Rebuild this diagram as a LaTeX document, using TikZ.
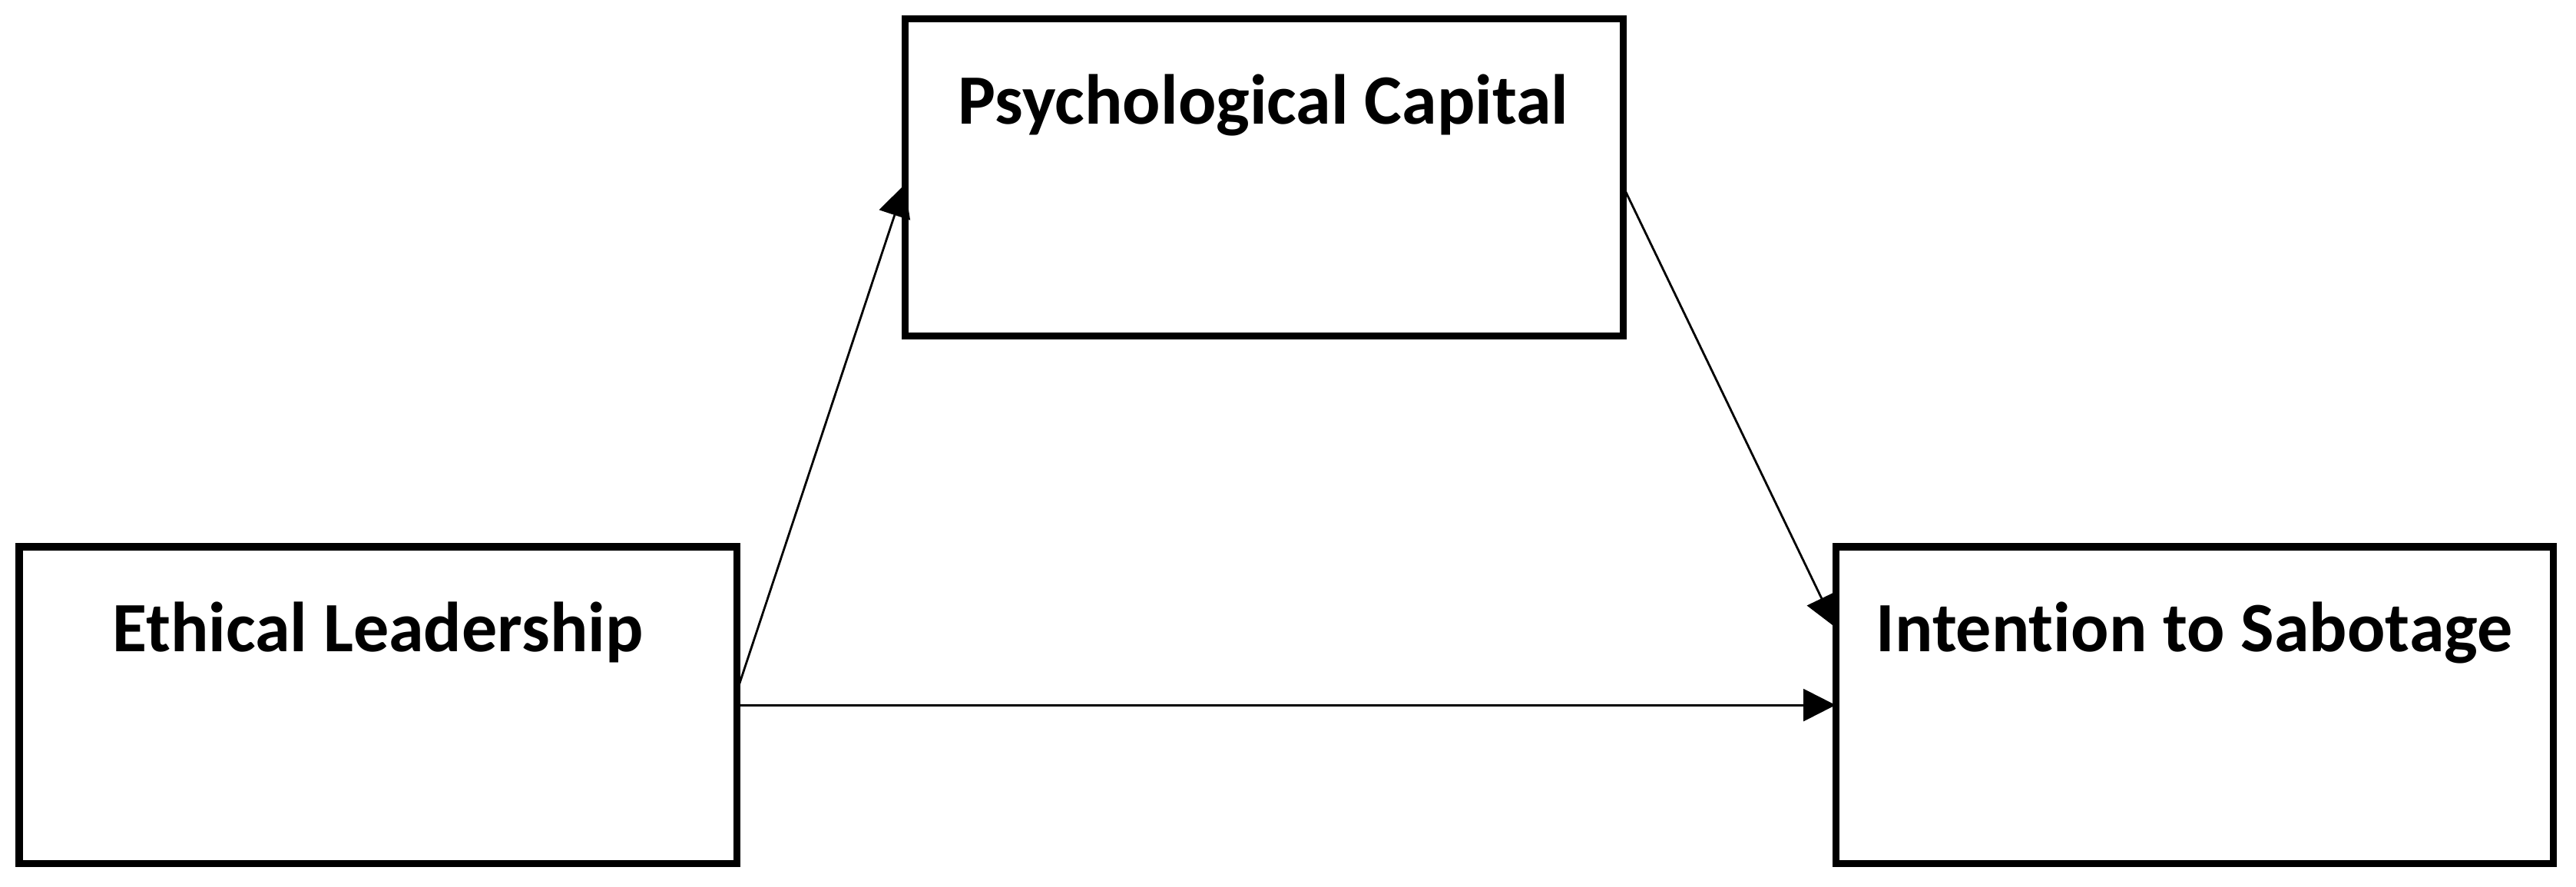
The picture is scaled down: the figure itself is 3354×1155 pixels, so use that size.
\documentclass[tikz,border=0pt]{standalone}
\usepackage{fontspec}
\setmainfont[Ligatures=NoCommon]{Carlito}
\usetikzlibrary{arrows.meta,calc}
\begin{document}
\begin{tikzpicture}[x=0.01cm,y=-0.01cm,
  box/.style={draw=black,line width=0.09cm,rectangle,inner sep=0,outer sep=0,anchor=north west},
  lbl/.style={font=\fontsize{26.2}{30}\selectfont\bfseries,anchor=base,inner sep=0},
  conn/.style={line width=0.028cm,-{Triangle[length=0.42cm,width=0.42cm]}}]
\useasboundingbox (0,0) rectangle (3354,1155);
\node[box,minimum width=9.35cm,minimum height=4.12cm] (pc) at (1178,25) {};
\node[box,minimum width=9.34cm,minimum height=4.12cm] (el) at (25,712) {};
\node[box,minimum width=9.34cm,minimum height=4.12cm] (is) at (2390,712) {};
\node[lbl] (pct) at (1645,162) {Psychological Capital};
\node[lbl] (elt) at (492,848) {Ethical Leadership};
\node[lbl] (ist) at (2857,848) {Intention to Sabotage};
\coordinate (e1) at ([yshift=-1.88cm]el.north east);
\coordinate (e2) at ([yshift=-2.06cm]el.north east);
\coordinate (p1) at ([yshift=-2.15cm]pc.north west);
\coordinate (p2) at ([yshift=-2.18cm]pc.north east);
\coordinate (i1) at ([yshift=-1.05cm]is.north west);
\coordinate (i2) at ([yshift=-2.06cm]is.north west);
\draw[conn] (e1) -- (p1);
\draw[conn] (p2) -- (i1);
\draw[conn] (e2) -- (i2);
\end{tikzpicture}
\end{document}
